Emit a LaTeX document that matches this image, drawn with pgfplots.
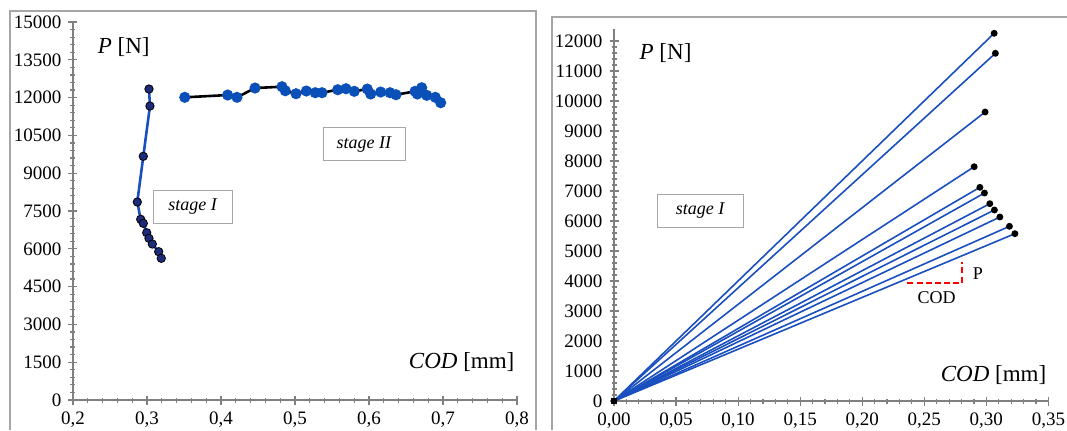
\documentclass[border=0pt]{standalone}
\usepackage{fontspec}
\setmainfont{Liberation Serif}
\usepackage{pgfplots}
\pgfplotsset{compat=1.18}

\definecolor{lineblue}{HTML}{1A4FBF}
\definecolor{markblue}{HTML}{0A50B8}
\definecolor{navy}{HTML}{1C2C7A}
\definecolor{axisgray}{HTML}{808080}
\definecolor{framegray}{HTML}{A6A6A6}

\pgfplotsset{
  panel/.style={
    scale only axis,
    axis lines=left,
    axis line style={-, axisgray, line width=0.7pt},
    tick style={axisgray, line width=0.6pt},
    tick align=center,
    major tick length=4.5pt,
    minor tick length=2.5pt,
    minor tick num=4,
    scaled ticks=false,
    ticklabel style={font=\fontsize{9.5}{11}\selectfont, black},
    clip=false,
  },
  ray/.style={lineblue, line width=0.8pt, mark=*, mark size=1.3pt, mark indices={2},
    mark options={fill=black, draw=black}},
}

\begin{document}
\begin{tikzpicture}
\useasboundingbox (0,0) rectangle (533.5pt,-215pt);

% chart area frames
\draw[framegray, line width=0.6pt] (5pt,-215pt) -- (5pt,-5.5pt) -- (268pt,-5.5pt) -- (268pt,-215pt);
\draw[framegray, line width=0.6pt] (276pt,-215pt) -- (276pt,-8.5pt) -- (533.5pt,-8.5pt);

% ---------------- left panel ----------------
\begin{axis}[panel,
  at={(36.5pt,-200pt)}, anchor=south west,
  width=222pt, height=189pt,
  xmin=0.2, xmax=0.8, ymin=0, ymax=15000,
  xtick={0.2,0.3,0.4,0.5,0.6,0.7,0.8},
  xticklabels={{0,2},{0,3},{0,4},{0,5},{0,6},{0,7},{0,8}},
  ytick={0,1500,3000,4500,6000,7500,9000,10500,12000,13500,15000},
  yticklabels={0,1500,3000,4500,6000,7500,9000,10500,12000,13500,15000},
]
% stage I
\addplot[lineblue, line width=1.3pt, mark=*, mark size=2.1pt,
  mark options={fill=navy, draw=black, line width=0.4pt}] coordinates {
(0.3027,12341) (0.3040,11666) (0.2950,9670) (0.2869,7857) (0.2915,7170)
(0.2950,7011) (0.2996,6639) (0.3027,6416) (0.3072,6190) (0.3158,5885)
(0.3193,5623)
};
% stage II
\addplot[black, line width=1.3pt, mark=*, mark size=2.1pt,
  mark options={fill=markblue, draw=markblue}] coordinates {
(0.3510,12011) (0.4090,12102) (0.4216,12011) (0.4460,12380) (0.4824,12432)
(0.4869,12273) (0.5014,12154) (0.5153,12261) (0.5274,12194) (0.5365,12194)
(0.5577,12313) (0.5689,12352) (0.5801,12249) (0.5977,12340) (0.6023,12142)
(0.6158,12221) (0.6284,12194) (0.6365,12114) (0.6622,12249) (0.6712,12392)
(0.6653,12142) (0.6780,12090) (0.6896,12011) (0.6969,11797)
};
\node[anchor=west, font=\fontsize{11.5}{13}\selectfont] at (axis cs:0.224,14000) {\textit{P} [N]};
\node[anchor=east, font=\fontsize{11.5}{13}\selectfont] at (axis cs:0.806,1520) {\textit{COD} [mm]};
\node[draw=framegray, fill=white, minimum width=39.5pt, minimum height=16.5pt,
  font=\fontsize{9}{11}\selectfont\itshape] at (axis cs:0.3615,7678) {stage I};
\node[draw=framegray, fill=white, minimum width=41pt, minimum height=16.5pt,
  font=\fontsize{9}{11}\selectfont\itshape] at (axis cs:0.5932,10158) {stage II};
\end{axis}

% ---------------- right panel ----------------
\begin{axis}[panel,
  at={(307pt,-200.5pt)}, anchor=south west,
  width=217.2pt, height=186pt,
  xmin=0, xmax=0.35, ymin=0, ymax=12400,
  xtick={0,0.05,0.1,0.15,0.2,0.25,0.3,0.35},
  xticklabels={{0,00},{0,05},{0,10},{0,15},{0,20},{0,25},{0,30},{0,35}},
  ytick={0,1000,2000,3000,4000,5000,6000,7000,8000,9000,10000,11000,12000},
  yticklabels={0,1000,2000,3000,4000,5000,6000,7000,8000,9000,10000,11000,12000},
]
\addplot[ray] coordinates {(0,0) (0.3063,12257)};
\addplot[ray] coordinates {(0,0) (0.3073,11590)};
\addplot[ray] coordinates {(0,0) (0.2990,9633)};
\addplot[ray] coordinates {(0,0) (0.2902,7810)};
\addplot[ray] coordinates {(0,0) (0.2948,7123)};
\addplot[ray] coordinates {(0,0) (0.2985,6933)};
\addplot[ray] coordinates {(0,0) (0.3028,6577)};
\addplot[ray] coordinates {(0,0) (0.3065,6367)};
\addplot[ray] coordinates {(0,0) (0.3109,6133)};
\addplot[ray] coordinates {(0,0) (0.3186,5823)};
\addplot[ray] coordinates {(0,0) (0.3230,5577)};
\addplot[only marks, mark=square*, mark size=1.3pt, black] coordinates {(0,0)};
% P-COD sketch
\addplot[red, line width=1pt, dash pattern=on 3pt off 1.6pt] coordinates {
(0.2364,3923) (0.2803,3923) (0.2803,4643)
};
\node[font=\fontsize{9}{11}\selectfont] at (axis cs:0.2932,4257) {P};
\node[font=\fontsize{9}{11}\selectfont] at (axis cs:0.2600,3457) {COD};
\node[anchor=west, font=\fontsize{11.5}{13}\selectfont] at (axis cs:0.0150,11600) {\textit{P} [N]};
\node[anchor=east, font=\fontsize{11.5}{13}\selectfont] at (axis cs:0.354,867) {\textit{COD} [mm]};
\node[draw=framegray, fill=white, minimum width=43pt, minimum height=16.5pt,
  font=\fontsize{9}{11}\selectfont\itshape] at (axis cs:0.0693,6333) {stage I};
\end{axis}
\end{tikzpicture}
\end{document}
